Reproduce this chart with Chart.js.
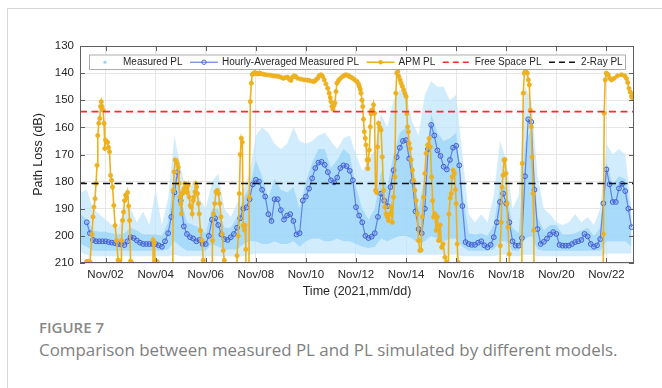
<!DOCTYPE html>
<html>
<head>
<meta charset="utf-8">
<script src="https://cdn.jsdelivr.net/npm/chart.js@4.4.1/dist/chart.umd.min.js"></script>
<style>
  html, body { margin: 0; padding: 0; background: #fff; }
  body { width: 662px; height: 388px; position: relative; overflow: hidden; }
  .frame { position: absolute; left: 7px; top: 8px; width: 720px; height: 420px;
           border-left: 1.5px solid #d6d6d6; border-top: 1.5px solid #d6d6d6; }
  #wrap { position: absolute; left: 0; top: 0; width: 662px; height: 310px; }
  .fig-label { position: absolute; left: 39px; top: 317px; line-height: 20px;
               font-family: 'Open Sans', 'Noto Sans', sans-serif; font-weight: 600;
               font-size: 15px; color: #888; }
  .fig-caption { position: absolute; left: 39px; top: 340px; line-height: 20px;
                 font-family: 'Open Sans', 'Noto Sans', sans-serif; font-size: 16.9px;
                 color: #808080; white-space: nowrap; }
</style>
</head>
<body>
<div class="frame"></div>
<div id="wrap"><canvas id="plChart" width="662" height="310"></canvas></div>
<div class="fig-label">FIGURE 7</div>
<div class="fig-caption">Comparison between measured PL and PL simulated by different models.</div>

<script>
// Trục
const xMin = 0.98, xMax = 23.1;
const xTickDays = [2, 4, 6, 8, 10, 12, 14, 16, 18, 20, 22];
const xTickLabels = ['Nov/02', 'Nov/04', 'Nov/06', 'Nov/08', 'Nov/10', 'Nov/12',
                     'Nov/14', 'Nov/16', 'Nov/18', 'Nov/20', 'Nov/22'];
const yTicks = [130, 140, 150, 160, 170, 180, 190, 200, 210];

// Measured PL: mây điểm, đọc theo bước 6 giờ từ Nov/01 00:00 (đường bao)
const measStart = 1.0, measStep = 0.25;
const measTop = [
  184, 183, 190, 192,
  194, 196, 197, 190,
  190, 195, 191, 196,
  183, 196, 186, 163,
  175, 185, 180, 186,
  190, 180, 177, 190,
  193, 188, 183, 177,
  163, 160, 162, 166,
  168, 166, 160, 165,
  166, 165, 163, 162,
  165, 168, 164, 163,
  170, 176, 172, 168,
  155, 160, 150, 146,
  148, 158, 163, 148,
  143, 145, 145, 150,
  148, 170, 192, 195,
  192, 195, 185, 165,
  172, 190, 185, 145,
  150, 178, 190, 192,
  195, 196, 195, 192,
  195, 193, 196, 190,
  166, 170, 168, 170,
  190
];
const measCoreTop = [
  192, 194, 198, 198.5,
  198.5, 199, 199.5, 199,
  197, 198, 199.5, 199.5,
  199.5, 200, 195, 176,
  186, 195, 196, 197,
  199, 190, 190, 197,
  197, 193, 186, 182,
  172, 178, 186, 179,
  183, 184, 182, 190,
  180, 173, 168, 168,
  175, 172, 168, 170,
  182, 190, 194, 190,
  176, 182, 170, 162,
  160, 172, 190, 178,
  155, 162, 165, 164,
  162, 184, 199, 199.5,
  199, 200, 196, 182,
  182, 197, 199, 166,
  160, 193, 198, 196,
  196, 199.5, 199.5, 199,
  198, 197, 200, 197,
  173, 181, 178, 179,
  193
];
const measCoreBottom = [
  203, 204, 205.5, 205.5,
  205.5, 205.5, 205.5, 205.5,
  205.5, 205.5, 205.5, 205.5,
  205.5, 205.5, 205, 202,
  204, 205.5, 205.5, 205.5,
  205.5, 203, 204, 205,
  205, 205, 203, 202,
  202, 203, 203, 202,
  203, 203, 202, 204,
  202, 201, 201, 202,
  202, 201, 202, 202,
  203, 204, 204.5, 204,
  201, 202, 201, 200,
  200, 201, 203, 202,
  200, 201, 202, 201,
  201, 204, 205.5, 205.5,
  205.5, 205.5, 205, 202,
  202, 205.5, 205.5, 201,
  200, 205, 205.5, 205.5,
  205.5, 205.5, 205.5, 205.5,
  205.5, 205.5, 205.5, 205.5,
  202, 202, 202, 202,
  204
];
const measBottom = [
  206, 207, 207.5, 207.5,
  207.5, 207.5, 207.5, 207.5,
  207.5, 207.5, 207.5, 207.5,
  207.5, 207.5, 207.5, 207,
  207.5, 207.5, 207.5, 207.5,
  207.5, 207.5, 207.5, 207.5,
  207.5, 207.5, 207.5, 207,
  206.5, 206.5, 206.5, 206.5,
  206.5, 206.5, 206.5, 206.5,
  206.5, 206.5, 206.5, 206.5,
  206.5, 206.5, 206.5, 206.5,
  206.5, 207, 207, 207,
  207, 207, 207, 207,
  207, 207, 207, 207,
  207, 207, 207, 207,
  207, 207.5, 207.5, 207.5,
  207.5, 207.5, 207.5, 207,
  207, 207.5, 207.5, 207,
  207, 207.5, 207.5, 207.5,
  207.5, 207.5, 207.5, 207.5,
  207.5, 207.5, 207.5, 207.5,
  206.5, 206.5, 206.5, 206.5,
  206.5
];

// Hourly-Averaged Measured PL, đọc theo bước 3 giờ từ Nov/01 06:00
const avgStart = 1.25, avgStep = 0.125;
const avgPL = [
  195, 199, 201.5, 202, 202, 202,
  202, 202.3, 202.5, 202.7, 203, 203.2, 203.4, 202,
  200.5, 200.8, 201.7, 202.5, 203, 203, 203, 203,
  203, 203.5, 204, 202, 199, 193, 184, 176.5,
  187, 196.5, 199.3, 200.5, 201, 202, 201.5, 203,
  203, 200, 194, 193.5, 196, 199.5, 201.2, 201.5,
  200.5, 199.3, 197, 193.5, 190, 189.5, 186.5, 181,
  179.3, 180, 183, 185.5, 192, 194.5, 186.5, 186.5,
  190.5, 194, 192.5, 192, 194.5, 199.5, 199, 187,
  185.5, 182.6, 178.8, 175, 173, 172.7, 173.8, 176.5,
  179.5, 180.3, 178.5, 175, 174, 174.3, 176, 179.5,
  189.4, 192.5, 195, 200, 200.8, 200.3, 199, 193,
  184.4, 187, 189, 182, 175.8, 171, 167.5, 165,
  164.7, 171.5, 180, 191, 197.5, 199, 190, 168,
  159.1, 163, 168.5, 170.5, 174.5, 175.5, 172, 167.5,
  166.8, 174, 189, 202.3, 203, 203.3, 203.3, 202.5,
  202, 203.5, 204.2, 203.3, 200.5, 195, 187.5, 184.4,
  188.1, 195, 202, 203.6, 203.6, 200.8, 178, 157,
  158, 183, 197.5, 203, 202.2, 201, 199.5, 198.6,
  199.3, 203.3, 203.6, 203.6, 203.6, 203, 202.3, 202,
  201.5, 199.3, 200.2, 203, 204, 203.5, 201.2, 188,
  175.5, 181, 187.5, 187.5, 182.5, 180.8, 183.5, 190,
  196.8
];

// APM PL (260 = ngoài trục, dưới 210 dB)
const apmDays = [
  1.25, 1.31, 1.38, 1.46, 1.5, 1.54, 1.58, 1.62, 1.66, 1.69, 1.73, 1.77, 1.8, 1.83, 1.86, 1.9,
  1.94, 1.97, 2.0, 2.04, 2.08, 2.12, 2.16, 2.2, 2.24, 2.28, 2.33, 2.38, 2.44, 2.5, 2.55, 2.6,
  2.64, 2.68, 2.72, 2.76, 2.8, 2.84, 2.88, 2.92, 2.96, 3.0, 3.04, 3.1,
  3.86, 3.9, 3.94, 3.98, 4.06, 4.1,
  4.66, 4.7, 4.74, 4.78, 4.82, 4.86, 4.9, 4.93, 4.97, 5.0, 5.03, 5.07, 5.1, 5.13, 5.17, 5.21,
  5.25, 5.3, 5.34, 5.38, 5.42, 5.46, 5.5, 5.53, 5.57, 5.6, 5.64, 5.67, 5.71, 5.74, 5.79, 5.85,
  5.9, 5.95,
  6.22, 6.27, 6.31, 6.36, 6.41, 6.46, 6.51, 6.56, 6.61, 6.66, 6.7, 6.74, 6.78,
  7.2, 7.25, 7.3, 7.34, 7.38, 7.42, 7.46, 7.5, 7.54, 7.57, 7.6, 7.64,
  7.7, 7.74, 7.78, 7.82, 7.86, 7.9, 7.95, 8.0, 8.05, 8.1, 8.15, 8.2, 8.3, 8.4, 8.5, 8.6,
  8.7, 8.8, 8.9, 9.0, 9.1, 9.2, 9.27, 9.33, 9.4, 9.47, 9.53, 9.6, 9.67, 9.8, 9.93, 10.05,
  10.13, 10.25, 10.33, 10.4, 10.47, 10.53, 10.6, 10.67, 10.73, 10.8, 10.87, 10.93, 10.97, 11.0, 11.04, 11.08,
  11.12, 11.16, 11.2, 11.24, 11.3, 11.37, 11.47, 11.55, 11.6, 11.67, 11.73, 11.8, 11.87, 11.95, 12.04, 12.1,
  12.13, 12.17, 12.2, 12.24, 12.27, 12.3, 12.33, 12.37, 12.4, 12.44, 12.47, 12.5, 12.53, 12.57, 12.6, 12.63,
  12.67, 12.7, 12.74, 12.78, 12.82, 12.86, 12.9, 12.95, 13.0, 13.05, 13.1, 13.15, 13.2, 13.25, 13.3, 13.35,
  13.4, 13.45, 13.5, 13.55, 13.59, 13.63, 13.67, 13.71, 13.76, 13.8, 13.85, 13.9, 13.95, 14.0, 14.03, 14.06,
  14.09, 14.12, 14.16, 14.2, 14.25, 14.3, 14.35, 14.4, 14.45, 14.5, 14.55, 14.6, 14.65, 14.7, 14.75, 14.8,
  14.86, 14.92, 14.97, 15.02, 15.06, 15.1, 15.15, 15.2, 15.25, 15.3, 15.36, 15.42, 15.48, 15.55, 15.61, 15.67,
  15.71, 15.76, 15.8, 15.84, 15.88, 15.93, 15.97, 16.0, 16.04, 16.08, 16.12,
  17.72, 17.76, 17.8, 17.83, 17.87, 17.91, 17.95, 17.99, 18.03, 18.07, 18.12, 18.16,
  18.6, 18.64, 18.68, 18.72, 18.76, 18.8, 18.84, 18.88, 18.92, 18.96, 19.0, 19.03, 19.07, 19.1, 19.13,
  21.84, 21.88, 21.91, 21.95, 21.99, 22.03, 22.07, 22.13, 22.2, 22.31, 22.44, 22.6, 22.73, 22.8, 22.85, 22.9,
  22.95, 23.0, 23.05, 23.1
];
const apmPL = [
  209.4, 209.4, 209.6, 199.5, 193, 189.4, 186.3, 180.7, 174, 163, 158.5, 156.7, 152.3, 150.5, 152.3, 153.6,
  158.5, 167.8, 164.7, 165.3, 165.5, 167.4, 169, 177.7, 179.5, 182, 188.8, 196.2, 201.7, 208.9, 209.3, 260,
  201.7, 194.3, 191.2, 187, 185, 186, 184, 189, 194.3, 209.3, 209.8, 260,
  260, 201.5, 202.5, 209.3, 209.5, 260,
  260, 183.2, 176.4, 172, 172.3, 173.3, 174.6, 180.7, 185.7, 188.1, 191.9, 184.4, 183.8, 182.6, 180.7, 182,
  184, 181.4, 185.7, 188.8, 189.4, 191.9, 187, 185.7, 183.8, 180.7, 182, 184.4, 188.1, 191.9, 198, 201.7,
  209, 260,
  260, 201.7, 191.9, 188.1, 183.8, 183.2, 184.4, 188.1, 193, 199.3, 205.4, 209, 260,
  260, 207.3, 200, 184.4, 170, 164, 165.5, 196.2, 197.8, 196, 205, 260,
  260, 185.7, 150.5, 143.7, 140.5, 140.2, 139.8, 140, 140.3, 140.2, 140, 140.2, 140.4, 140.6, 140.7, 140.8,
  141, 141.1, 141.2, 141.5, 141.9, 141.6, 141.5, 142.2, 142.7, 141.5, 141, 141.3, 141.9, 142.2, 142.5, 142.6,
  142.7, 143, 143.1, 142.5, 141.9, 141, 140.6, 141.2, 142.5, 144, 145.6, 147.4, 149, 150.5, 152.3, 153.3,
  152, 151, 146.8, 143.7, 142.8, 142, 141.2, 140.8, 140.6, 140.8, 141.2, 141.5, 141.9, 142.5, 143.1, 144,
  144.9, 146, 147.4, 150, 152.3, 157, 161.6, 164, 166.5, 172, 175.2, 172, 168.4, 159.8, 155, 153.6,
  154.2, 151.7, 154.8, 183.2, 184, 167.2, 158.5, 160, 161, 170.9, 183.2, 189.4, 191.9, 193, 194.3, 192,
  189.4, 195, 185.7, 178.3, 147.4, 140, 139.4, 141.2, 142.5, 143.7, 144.9, 146.2, 147.5, 148.6, 155, 159.8,
  161.6, 165.9, 167.8, 172, 175.8, 179.5, 183.2, 187, 191.9, 201.7, 205.4, 205.2, 193, 185.7, 177, 169.6,
  166.5, 164.1, 167.2, 178.3, 187, 193, 191.9, 198, 193, 201.7, 196, 204.2, 203, 207.9, 209.6, 230,
  192, 186, 184.4, 178.3, 175.8, 177, 183, 188.1, 203, 209.8, 260,
  260, 203.6, 195, 182, 177.7, 172, 171.9, 177, 188.1, 196.8, 206.7, 260,
  260, 173.3, 147.4, 140, 139.4, 139.6, 140, 142.5, 144.3, 153.6, 159.8, 170.9, 184.4, 198, 260,
  260, 199.3, 154.8, 142.5, 140, 140.3, 140.6, 141.9, 142.5, 141.9, 141, 140.6, 141, 142, 143.5, 145.6,
  147, 148.6, 149.3, 147.6
];

// Mô hình hằng số
const freeSpacePL = 154.2;
const twoRayPL = 180.7;

const legendLabels = ['Measured PL', 'Hourly-Averaged Measured PL', 'APM PL', 'Free Space PL', '2-Ray PL'];

const FONT = "'Liberation Sans', Arial, Helvetica, sans-serif";
const AXIS_COLOR = '#5e5e5e';
const BLUE_LINE = 'rgba(95, 125, 228, 0.95)';
const BLUE_MARK = '#3f5dd2';
const ORANGE = '#EDB120';
const MEAS_OUTER = 'rgba(190, 228, 252, 0.7)';
const MEAS_CORE = 'rgba(150, 210, 248, 0.7)';

function series(start, step, values) {
    return values.map((v, i) => ({ x: start + i * step, y: v }));
}

// Khung trục + vạch chia bên trong + chú giải
const boxLegendPlugin = {
    id: 'boxLegend',
    afterDatasetsDraw(chart) {
        const { ctx, chartArea: a, scales: { x, y } } = chart;
        const L = Math.round(a.left), R = Math.round(a.right);
        const T = Math.round(a.top), B = Math.round(a.bottom);
        ctx.save();
        ctx.strokeStyle = AXIS_COLOR;
        ctx.lineWidth = 1;
        ctx.strokeRect(L + 0.5, T + 0.5, R - L - 1, B - T - 1);

        ctx.beginPath();
        xTickDays.forEach(d => {
            const px = Math.round(x.getPixelForValue(d)) + 0.5;
            ctx.moveTo(px, T); ctx.lineTo(px, T + 5);
            ctx.moveTo(px, B); ctx.lineTo(px, B - 5);
        });
        yTicks.forEach(v => {
            const py = Math.round(y.getPixelForValue(v)) + 0.5;
            ctx.moveTo(L, py); ctx.lineTo(L + 5, py);
            ctx.moveTo(R, py); ctx.lineTo(R - 5, py);
        });
        ctx.stroke();

        // chú giải
        const bx = L + 9, by = T + 8.5, bw = R - 8 - bx, bh = 14.5;
        ctx.fillStyle = '#fff';
        ctx.fillRect(bx, by, bw, bh);
        ctx.strokeStyle = '#9a9a9a';
        ctx.lineWidth = 0.8;
        ctx.strokeRect(bx + 0.5, by + 0.5, bw - 1, bh);

        ctx.font = '10px ' + FONT;
        ctx.textBaseline = 'middle';
        const cy = by + bh / 2 + 0.5;
        let cx = bx + 2;
        const sampleW = 28;
        legendLabels.forEach((label, i) => {
            const s0 = cx, s1 = cx + sampleW, mid = (s0 + s1) / 2;
            ctx.setLineDash([]);
            if (i === 0) {
                ctx.fillStyle = 'rgb(150, 210, 248)';
                ctx.beginPath(); ctx.arc(mid, cy, 1.6, 0, Math.PI * 2); ctx.fill();
            } else if (i === 1) {
                ctx.strokeStyle = BLUE_LINE; ctx.lineWidth = 1.2;
                ctx.beginPath(); ctx.moveTo(s0, cy); ctx.lineTo(s1, cy); ctx.stroke();
                ctx.strokeStyle = BLUE_MARK; ctx.lineWidth = 0.9;
                ctx.beginPath(); ctx.arc(mid, cy, 2.2, 0, Math.PI * 2); ctx.stroke();
            } else if (i === 2) {
                ctx.strokeStyle = ORANGE; ctx.lineWidth = 1.6;
                ctx.beginPath(); ctx.moveTo(s0, cy); ctx.lineTo(s1, cy); ctx.stroke();
                ctx.fillStyle = ORANGE;
                ctx.beginPath(); ctx.arc(mid, cy, 2.2, 0, Math.PI * 2); ctx.fill();
            } else {
                ctx.strokeStyle = i === 3 ? '#ff2a2a' : '#111';
                ctx.lineWidth = 1.6;
                ctx.setLineDash([6, 4]);
                ctx.beginPath(); ctx.moveTo(s0, cy); ctx.lineTo(s1, cy); ctx.stroke();
                ctx.setLineDash([]);
            }
            ctx.fillStyle = '#262626';
            ctx.fillText(label, s1 + 4, cy);
            cx = s1 + 4 + ctx.measureText(label).width + 7.5;
        });
        ctx.restore();
    }
};

function renderPLChart() {
    const ctx = document.getElementById('plChart').getContext('2d');
    Chart.defaults.font.family = FONT;
    Chart.defaults.color = '#262626';

    return new Chart(ctx, {
        type: 'line',
        data: {
            datasets: [
                {
                    label: 'Measured PL outer',
                    data: series(measStart, measStep, measTop),
                    borderWidth: 0, pointRadius: 0,
                    backgroundColor: MEAS_OUTER,
                    fill: '+1', order: 10
                },
                {
                    label: 'Measured PL outer low',
                    data: series(measStart, measStep, measBottom),
                    borderWidth: 0, pointRadius: 0, fill: false, order: 10
                },
                {
                    label: 'Measured PL core',
                    data: series(measStart, measStep, measCoreTop),
                    borderWidth: 0, pointRadius: 0,
                    backgroundColor: MEAS_CORE,
                    fill: '+1', order: 9
                },
                {
                    label: 'Measured PL core low',
                    data: series(measStart, measStep, measCoreBottom),
                    borderWidth: 0, pointRadius: 0, fill: false, order: 9
                },
                {
                    label: 'Hourly-Averaged Measured PL',
                    data: series(avgStart, avgStep, avgPL),
                    borderColor: BLUE_LINE,
                    borderWidth: 1.2,
                    pointRadius: 2.4,
                    pointBorderWidth: 1,
                    pointBorderColor: BLUE_MARK,
                    pointBackgroundColor: 'rgba(120, 150, 235, 0.25)',
                    fill: false, order: 5
                },
                {
                    label: 'APM PL',
                    data: apmDays.map((d, i) => ({ x: d, y: apmPL[i] })),
                    borderColor: ORANGE,
                    borderWidth: 1.6,
                    pointRadius: 2.1,
                    pointBorderWidth: 0.8,
                    pointBorderColor: ORANGE,
                    pointBackgroundColor: ORANGE,
                    fill: false, order: 4
                },
                {
                    label: 'Free Space PL',
                    data: [{ x: xMin, y: freeSpacePL }, { x: xMax, y: freeSpacePL }],
                    borderColor: '#ff2a2a',
                    borderWidth: 1.6,
                    borderDash: [7, 4.5],
                    pointRadius: 0, fill: false, order: 2
                },
                {
                    label: '2-Ray PL',
                    data: [{ x: xMin, y: twoRayPL }, { x: xMax, y: twoRayPL }],
                    borderColor: '#111',
                    borderWidth: 1.6,
                    borderDash: [7, 4.5],
                    pointRadius: 0, fill: false, order: 2
                }
            ]
        },
        options: {
            responsive: false,
            animation: false,
            devicePixelRatio: 1,
            layout: { padding: { top: 46, right: 28, left: 27, bottom: 7 } },
            plugins: {
                legend: { display: false },
                tooltip: { enabled: false }
            },
            elements: { line: { tension: 0 } },
            scales: {
                x: {
                    type: 'linear',
                    min: xMin, max: xMax,
                    afterBuildTicks: (scale) => {
                        scale.ticks = xTickDays.map(v => ({ value: v }));
                    },
                    afterFit: (scale) => { scale.height = 40; },
                    ticks: {
                        autoSkip: false,
                        maxRotation: 0,
                        padding: 5,
                        font: { size: 11.5 },
                        color: '#262626',
                        callback: (value) => xTickLabels[xTickDays.indexOf(value)]
                    },
                    grid: { color: '#e6e6e6', drawTicks: false },
                    border: { display: false },
                    title: {
                        display: true,
                        text: 'Time (2021,mm/dd)',
                        font: { size: 12.5 },
                        color: '#262626',
                        padding: { top: 4, bottom: 4 }
                    }
                },
                y: {
                    reverse: true,
                    min: 130, max: 210,
                    afterBuildTicks: (scale) => {
                        scale.ticks = yTicks.map(v => ({ value: v }));
                    },
                    afterFit: (scale) => { scale.width = 53; },
                    ticks: {
                        padding: 6,
                        font: { size: 11.5 },
                        color: '#262626'
                    },
                    grid: { color: '#e6e6e6', drawTicks: false },
                    border: { display: false },
                    title: {
                        display: true,
                        text: 'Path Loss (dB)',
                        font: { size: 12.5 },
                        color: '#262626',
                        padding: { top: 4, bottom: 4 }
                    }
                }
            }
        },
        plugins: [boxLegendPlugin]
    });
}

renderPLChart();
</script>
</body>
</html>
